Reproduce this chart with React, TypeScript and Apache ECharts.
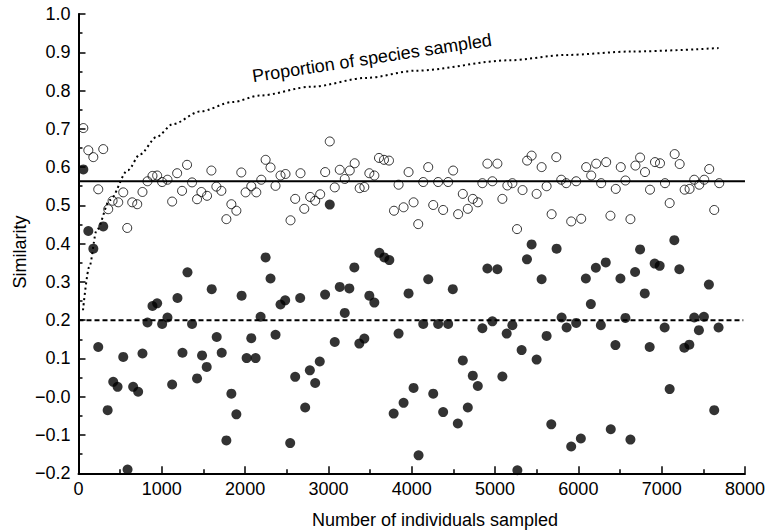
import React, { useEffect, useRef } from "react";
import * as echarts from "echarts";

// Number of individuals sampled (x) and similarity (y) for open circles
const openPoints: [number, number][] = [
  [58, 0.702], [118, 0.644], [178, 0.626], [297, 0.647], [237, 0.542], [357, 0.49], [409, 0.512],
  [477, 0.508], [537, 0.534], [585, 0.441], [645, 0.508], [705, 0.503], [768, 0.535], [828, 0.563],
  [888, 0.577], [944, 0.578], [1004, 0.561], [1068, 0.567], [1124, 0.51], [1184, 0.584], [1243, 0.538],
  [1303, 0.606], [1363, 0.56], [1423, 0.516], [1475, 0.535], [1543, 0.525], [1595, 0.591], [1655, 0.549],
  [1715, 0.538], [1775, 0.464], [1835, 0.503], [1895, 0.486], [1954, 0.586], [2006, 0.534], [2074, 0.55],
  [2134, 0.534], [2194, 0.567], [2246, 0.619], [2305, 0.599], [2365, 0.551], [2425, 0.578], [2485, 0.582],
  [2545, 0.461], [2601, 0.517], [2665, 0.584], [2710, 0.491], [2781, 0.522], [2841, 0.512], [2901, 0.529],
  [2961, 0.587], [3016, 0.667], [3076, 0.547], [3136, 0.593], [3196, 0.569], [3256, 0.591], [3315, 0.61],
  [3375, 0.545], [3431, 0.548], [3491, 0.584], [3551, 0.578], [3607, 0.624], [3667, 0.619], [3727, 0.617],
  [3787, 0.486], [3842, 0.554], [3902, 0.495], [3962, 0.587], [4022, 0.508], [4078, 0.451], [4138, 0.561],
  [4198, 0.6], [4258, 0.501], [4317, 0.561], [4377, 0.488], [4437, 0.561], [4497, 0.591], [4557, 0.477],
  [4613, 0.53], [4673, 0.491], [4733, 0.517], [4793, 0.508], [4848, 0.558], [4908, 0.609], [4968, 0.563],
  [5028, 0.609], [5088, 0.517], [5148, 0.552], [5208, 0.558], [5264, 0.438], [5330, 0.54], [5385, 0.617],
  [5439, 0.63], [5499, 0.53], [5559, 0.6], [5619, 0.55], [5679, 0.477], [5735, 0.626], [5795, 0.567],
  [5854, 0.558], [5914, 0.458], [5974, 0.563], [6034, 0.465], [6094, 0.6], [6154, 0.578], [6214, 0.609],
  [6274, 0.558], [6334, 0.613], [6385, 0.473], [6449, 0.543], [6509, 0.6], [6565, 0.565], [6625, 0.464],
  [6685, 0.604], [6741, 0.625], [6800, 0.587], [6860, 0.541], [6920, 0.613], [6980, 0.61], [7040, 0.558],
  [7096, 0.506], [7156, 0.634], [7216, 0.608], [7276, 0.541], [7335, 0.543], [7391, 0.567], [7451, 0.554],
  [7511, 0.567], [7571, 0.595], [7631, 0.488], [7691, 0.558],
];

// Filled circles
const filledPoints: [number, number][] = [
  [58, 0.594], [118, 0.433], [178, 0.387], [297, 0.445], [237, 0.13], [350, -0.035], [417, 0.039],
  [469, 0.026], [537, 0.104], [589, -0.19], [656, 0.026], [716, 0.013], [768, 0.113], [828, 0.194],
  [888, 0.237], [944, 0.244], [1004, 0.19], [1068, 0.207], [1124, 0.032], [1188, 0.258], [1248, 0.115],
  [1308, 0.325], [1363, 0.19], [1423, 0.048], [1483, 0.108], [1539, 0.078], [1599, 0.281], [1659, 0.156],
  [1719, 0.115], [1775, -0.114], [1835, 0.008], [1895, -0.046], [1958, 0.264], [2018, 0.101], [2074, 0.153],
  [2126, 0.101], [2186, 0.209], [2246, 0.364], [2305, 0.309], [2365, 0.162], [2425, 0.241], [2481, 0.252],
  [2541, -0.121], [2601, 0.052], [2661, 0.258], [2721, -0.028], [2777, 0.069], [2841, 0.036], [2896, 0.092],
  [2960, 0.267], [3016, 0.502], [3076, 0.143], [3136, 0.287], [3196, 0.219], [3251, 0.283], [3311, 0.338],
  [3371, 0.139], [3431, 0.152], [3491, 0.264], [3551, 0.246], [3611, 0.376], [3671, 0.364], [3731, 0.357],
  [3783, -0.044], [3842, 0.165], [3902, -0.016], [3962, 0.27], [4022, 0.023], [4082, -0.153], [4138, 0.19],
  [4198, 0.307], [4258, 0.008], [4317, 0.19], [4377, -0.04], [4437, 0.19], [4493, 0.281], [4553, -0.07],
  [4613, 0.095], [4673, -0.028], [4733, 0.055], [4793, 0.028], [4848, 0.179], [4908, 0.335], [4968, 0.197],
  [5028, 0.333], [5088, 0.053], [5140, 0.165], [5208, 0.187], [5268, -0.192], [5319, 0.122], [5383, 0.359],
  [5439, 0.398], [5499, 0.097], [5559, 0.307], [5619, 0.159], [5675, -0.072], [5739, 0.387], [5799, 0.207],
  [5859, 0.181], [5914, -0.13], [5974, 0.193], [6030, -0.109], [6090, 0.309], [6150, 0.242], [6210, 0.337],
  [6270, 0.187], [6329, 0.351], [6389, -0.085], [6445, 0.135], [6505, 0.309], [6565, 0.206], [6625, -0.112],
  [6681, 0.326], [6741, 0.385], [6797, 0.27], [6856, 0.13], [6916, 0.348], [6976, 0.342], [7036, 0.181],
  [7096, 0.02], [7152, 0.409], [7212, 0.333], [7272, 0.128], [7332, 0.136], [7391, 0.207], [7447, 0.174],
  [7507, 0.209], [7567, 0.293], [7631, -0.035], [7683, 0.181],
];

// Proportion of species sampled curve
const proportionCurve: [number, number][] = [
  [54, 0.226], [130, 0.34], [218, 0.435], [377, 0.514], [593, 0.592], [737, 0.633], [940, 0.679],
  [1132, 0.712], [1455, 0.745], [1850, 0.77], [2174, 0.787], [2800, 0.81], [3455, 0.833], [4054, 0.852],
  [5168, 0.879], [5850, 0.893], [6641, 0.902], [7683, 0.911],
];

const meanOpen = 0.563;
const meanFilled = 0.2;
const xRange = [0, 8000];

const FONT = "'Liberation Sans', Arial, Helvetica, sans-serif";

export default function App() {
  const ref = useRef<HTMLDivElement>(null);
  useEffect(() => {
    document.body.style.margin = "0";
    if (!ref.current) return;
    const chart = echarts.init(ref.current, undefined, { renderer: "svg" });
    const axisCommon = {
      axisLine: { show: true, onZero: false, lineStyle: { color: "#000", width: 2 } },
      axisTick: { show: true, inside: true, length: 7, lineStyle: { color: "#000", width: 1.5 } },
      minorTick: { show: true, splitNumber: 2, length: 4, lineStyle: { color: "#000", width: 1.5 } },
      splitLine: { show: false },
      minorSplitLine: { show: false },
    };
    chart.setOption({
      animation: false,
      backgroundColor: "#fff",
      textStyle: { fontFamily: FONT },
      grid: { left: 78.5, right: 21.5, top: 14, bottom: 57.7 },
      xAxis: {
        type: "value",
        min: 0,
        max: 8000,
        interval: 1000,
        ...axisCommon,
        axisLabel: {
          color: "#000",
          fontSize: 18,
          fontFamily: FONT,
          margin: 7,
          formatter: (v: number) => String(Math.round(v)),
        },
      },
      yAxis: {
        type: "value",
        min: -0.2,
        max: 1.0,
        interval: 0.1,
        ...axisCommon,
        axisLabel: {
          color: "#000",
          fontSize: 18,
          fontFamily: FONT,
          margin: 8,
          formatter: (v: number) => {
            const r = Math.round(v * 10) / 10;
            return r <= 0 ? "\u2212" + Math.abs(r).toFixed(1) : r.toFixed(1);
          },
        },
      },
      series: [
        {
          type: "line",
          data: proportionCurve,
          smooth: 0.3,
          smoothMonotone: "x",
          symbol: "none",
          lineStyle: { color: "#000", width: 2, type: [2, 3.2] },
          z: 2,
        },
        {
          type: "line",
          data: [[xRange[0], meanOpen], [xRange[1], meanOpen]],
          symbol: "none",
          lineStyle: { color: "#000", width: 2 },
          z: 2,
        },
        {
          type: "line",
          data: [[xRange[0], meanFilled], [xRange[1] - 20, meanFilled]],
          symbol: "none",
          lineStyle: { color: "#000", width: 2, type: [5, 3] },
          z: 2,
        },
        {
          type: "scatter",
          data: openPoints,
          symbol: "circle",
          symbolSize: 9,
          itemStyle: { color: "rgba(0,0,0,0)", borderColor: "#000", borderWidth: 1 },
          z: 3,
        },
        {
          type: "scatter",
          data: filledPoints,
          symbol: "circle",
          symbolSize: 10,
          itemStyle: { color: "#000" },
          z: 4,
        },
      ],
      graphic: [
        {
          type: "text",
          x: 435,
          y: 520,
          style: {
            text: "Number of individuals sampled",
            fontSize: 18,
            fontFamily: FONT,
            fill: "#000",
            textAlign: "center",
            textVerticalAlign: "middle",
          },
        },
        {
          type: "text",
          x: 20,
          y: 252,
          rotation: Math.PI / 2,
          style: {
            text: "Similarity",
            fontSize: 18,
            fontFamily: FONT,
            fill: "#000",
            textAlign: "center",
            textVerticalAlign: "middle",
          },
        },
        {
          type: "text",
          x: 372,
          y: 58,
          rotation: (8.7 * Math.PI) / 180,
          style: {
            text: "Proportion of species sampled",
            fontSize: 18,
            fontFamily: FONT,
            fill: "#000",
            textAlign: "center",
            textVerticalAlign: "middle",
          },
        },
      ],
    });
    return () => chart.dispose();
  }, []);
  return <div ref={ref} style={{ width: 768, height: 531 }} />;
}
